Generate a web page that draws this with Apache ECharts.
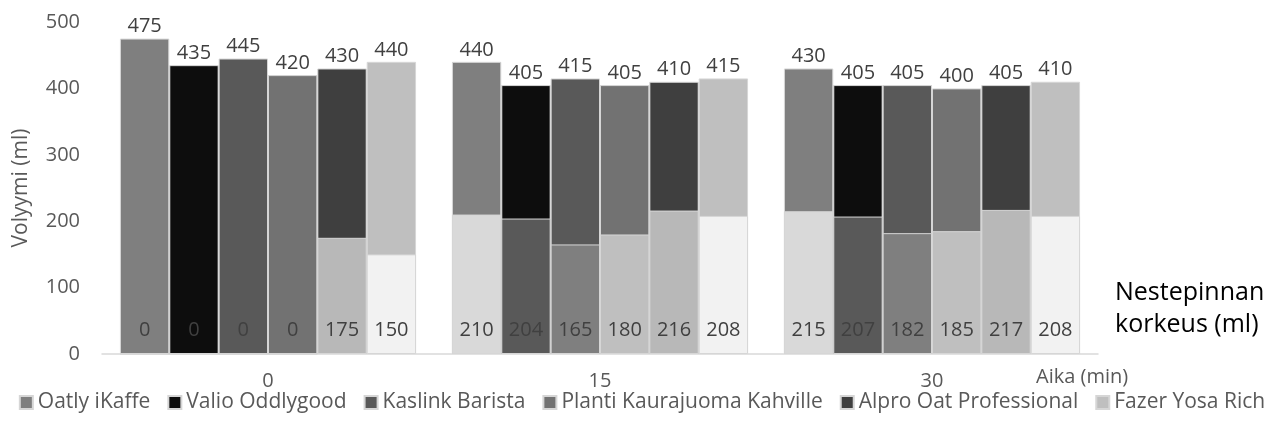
<!DOCTYPE html>
<html>
<head>
<meta charset="utf-8">
<script src="https://cdn.jsdelivr.net/npm/echarts@6/dist/echarts.min.js"></script>
<style>
  html, body { margin: 0; padding: 0; background: #ffffff; }
  #chart { width: 1284px; height: 432px; }
</style>
</head>
<body>
<div id="chart"></div>
<script>
// Time points (min)
var categories = ['0', '15', '30'];

// Products
var products = ['Oatly iKaffe', 'Valio Oddlygood', 'Kaslink Barista',
                'Planti Kaurajuoma Kahville', 'Alpro Oat Professional', 'Fazer Yosa Rich'];

// Total volume (ml) per product at 0, 15, 30 min
var oatlyVolume   = [475, 440, 430];
var valioVolume   = [435, 405, 405];
var kaslinkVolume = [445, 415, 405];
var plantiVolume  = [420, 405, 400];
var alproVolume   = [430, 410, 405];
var fazerVolume   = [440, 415, 410];

// Liquid level (ml) per product at 0, 15, 30 min
var oatlyLiquid   = [0, 210, 215];
var valioLiquid   = [0, 204, 207];
var kaslinkLiquid = [0, 165, 182];
var plantiLiquid  = [0, 180, 185];
var alproLiquid   = [175, 216, 217];
var fazerLiquid   = [150, 208, 208];

var yTicks = [0, 100, 200, 300, 400, 500];

var volumes = [oatlyVolume, valioVolume, kaslinkVolume, plantiVolume, alproVolume, fazerVolume];
var liquids = [oatlyLiquid, valioLiquid, kaslinkLiquid, plantiLiquid, alproLiquid, fazerLiquid];

var volumeColors = ['#7f7f7f', '#0d0d0d', '#595959', '#727272', '#3f3f3f', '#bfbfbf'];
var liquidColors = ['#d9d9d9', '#595959', '#7f7f7f', '#bfbfbf', '#b8b8b8', '#f2f2f2'];

var FONT = 'Open Sans';
var series = [];

// Total volume bars (first x axis)
products.forEach(function (name, i) {
  series.push({
    name: name,
    type: 'bar',
    xAxisIndex: 0,
    data: volumes[i],
    barGap: '0%',
    barCategoryGap: '10.8%',
    itemStyle: { color: volumeColors[i], borderColor: '#d6d6d6', borderWidth: 1 },
    label: {
      show: true, position: 'top', distance: 2,
      color: '#404040', fontFamily: FONT, fontSize: 20
    },
    z: 2
  });
});

// Liquid level bars drawn over the volume bars (second, hidden x axis)
products.forEach(function (name, i) {
  series.push({
    name: 'Nestepinnan korkeus: ' + name,
    type: 'bar',
    xAxisIndex: 1,
    data: liquids[i],
    barGap: '0%',
    barCategoryGap: '10.8%',
    itemStyle: { color: liquidColors[i], borderColor: '#d6d6d6', borderWidth: 1 },
    label: {
      show: true, position: 'insideBottom', distance: 14,
      color: '#404040', fontFamily: FONT, fontSize: 20
    },
    z: 3
  });
});

var chart = echarts.init(document.getElementById('chart'), null, { renderer: 'canvas' });
chart.setOption({
  animation: false,
  backgroundColor: '#ffffff',
  textStyle: { fontFamily: FONT },
  grid: { left: 102, right: 186, top: 22, bottom: 78, containLabel: false },
  legend: {
    data: products,
    bottom: 14,
    left: 'center',
    icon: 'rect',
    itemWidth: 13,
    itemHeight: 13,
    itemGap: 17,
    textStyle: { color: '#595959', fontFamily: FONT, fontSize: 21, padding: [0, 0, 0, 0] }
  },
  xAxis: [
    {
      type: 'category',
      data: categories,
      axisLine: { lineStyle: { color: '#d9d9d9', width: 1.5 } },
      axisTick: { show: false },
      axisLabel: { color: '#595959', fontFamily: FONT, fontSize: 20, margin: 17 }
    },
    {
      type: 'category',
      data: categories,
      show: false
    }
  ],
  yAxis: {
    type: 'value',
    min: yTicks[0],
    max: yTicks[yTicks.length - 1],
    interval: 100,
    name: 'Volyymi (ml)',
    nameLocation: 'middle',
    nameGap: 70,
    nameRotate: 90,
    nameTextStyle: { color: '#595959', fontFamily: FONT, fontSize: 21 },
    axisLine: { show: false },
    axisTick: { show: false },
    splitLine: { show: false },
    axisLabel: { color: '#595959', fontFamily: FONT, fontSize: 20, margin: 22 }
  },
  graphic: [
    {
      type: 'text', left: 1036, top: 367,
      style: { text: 'Aika (min)', fill: '#595959', font: '20px "Open Sans"' }
    },
    {
      type: 'text', left: 1115, top: 277,
      style: { text: 'Nestepinnan\nkorkeus (ml)', fill: '#000000', font: '25px "Open Sans"', lineHeight: 32 }
    }
  ],
  series: series
});
</script>
</body>
</html>
